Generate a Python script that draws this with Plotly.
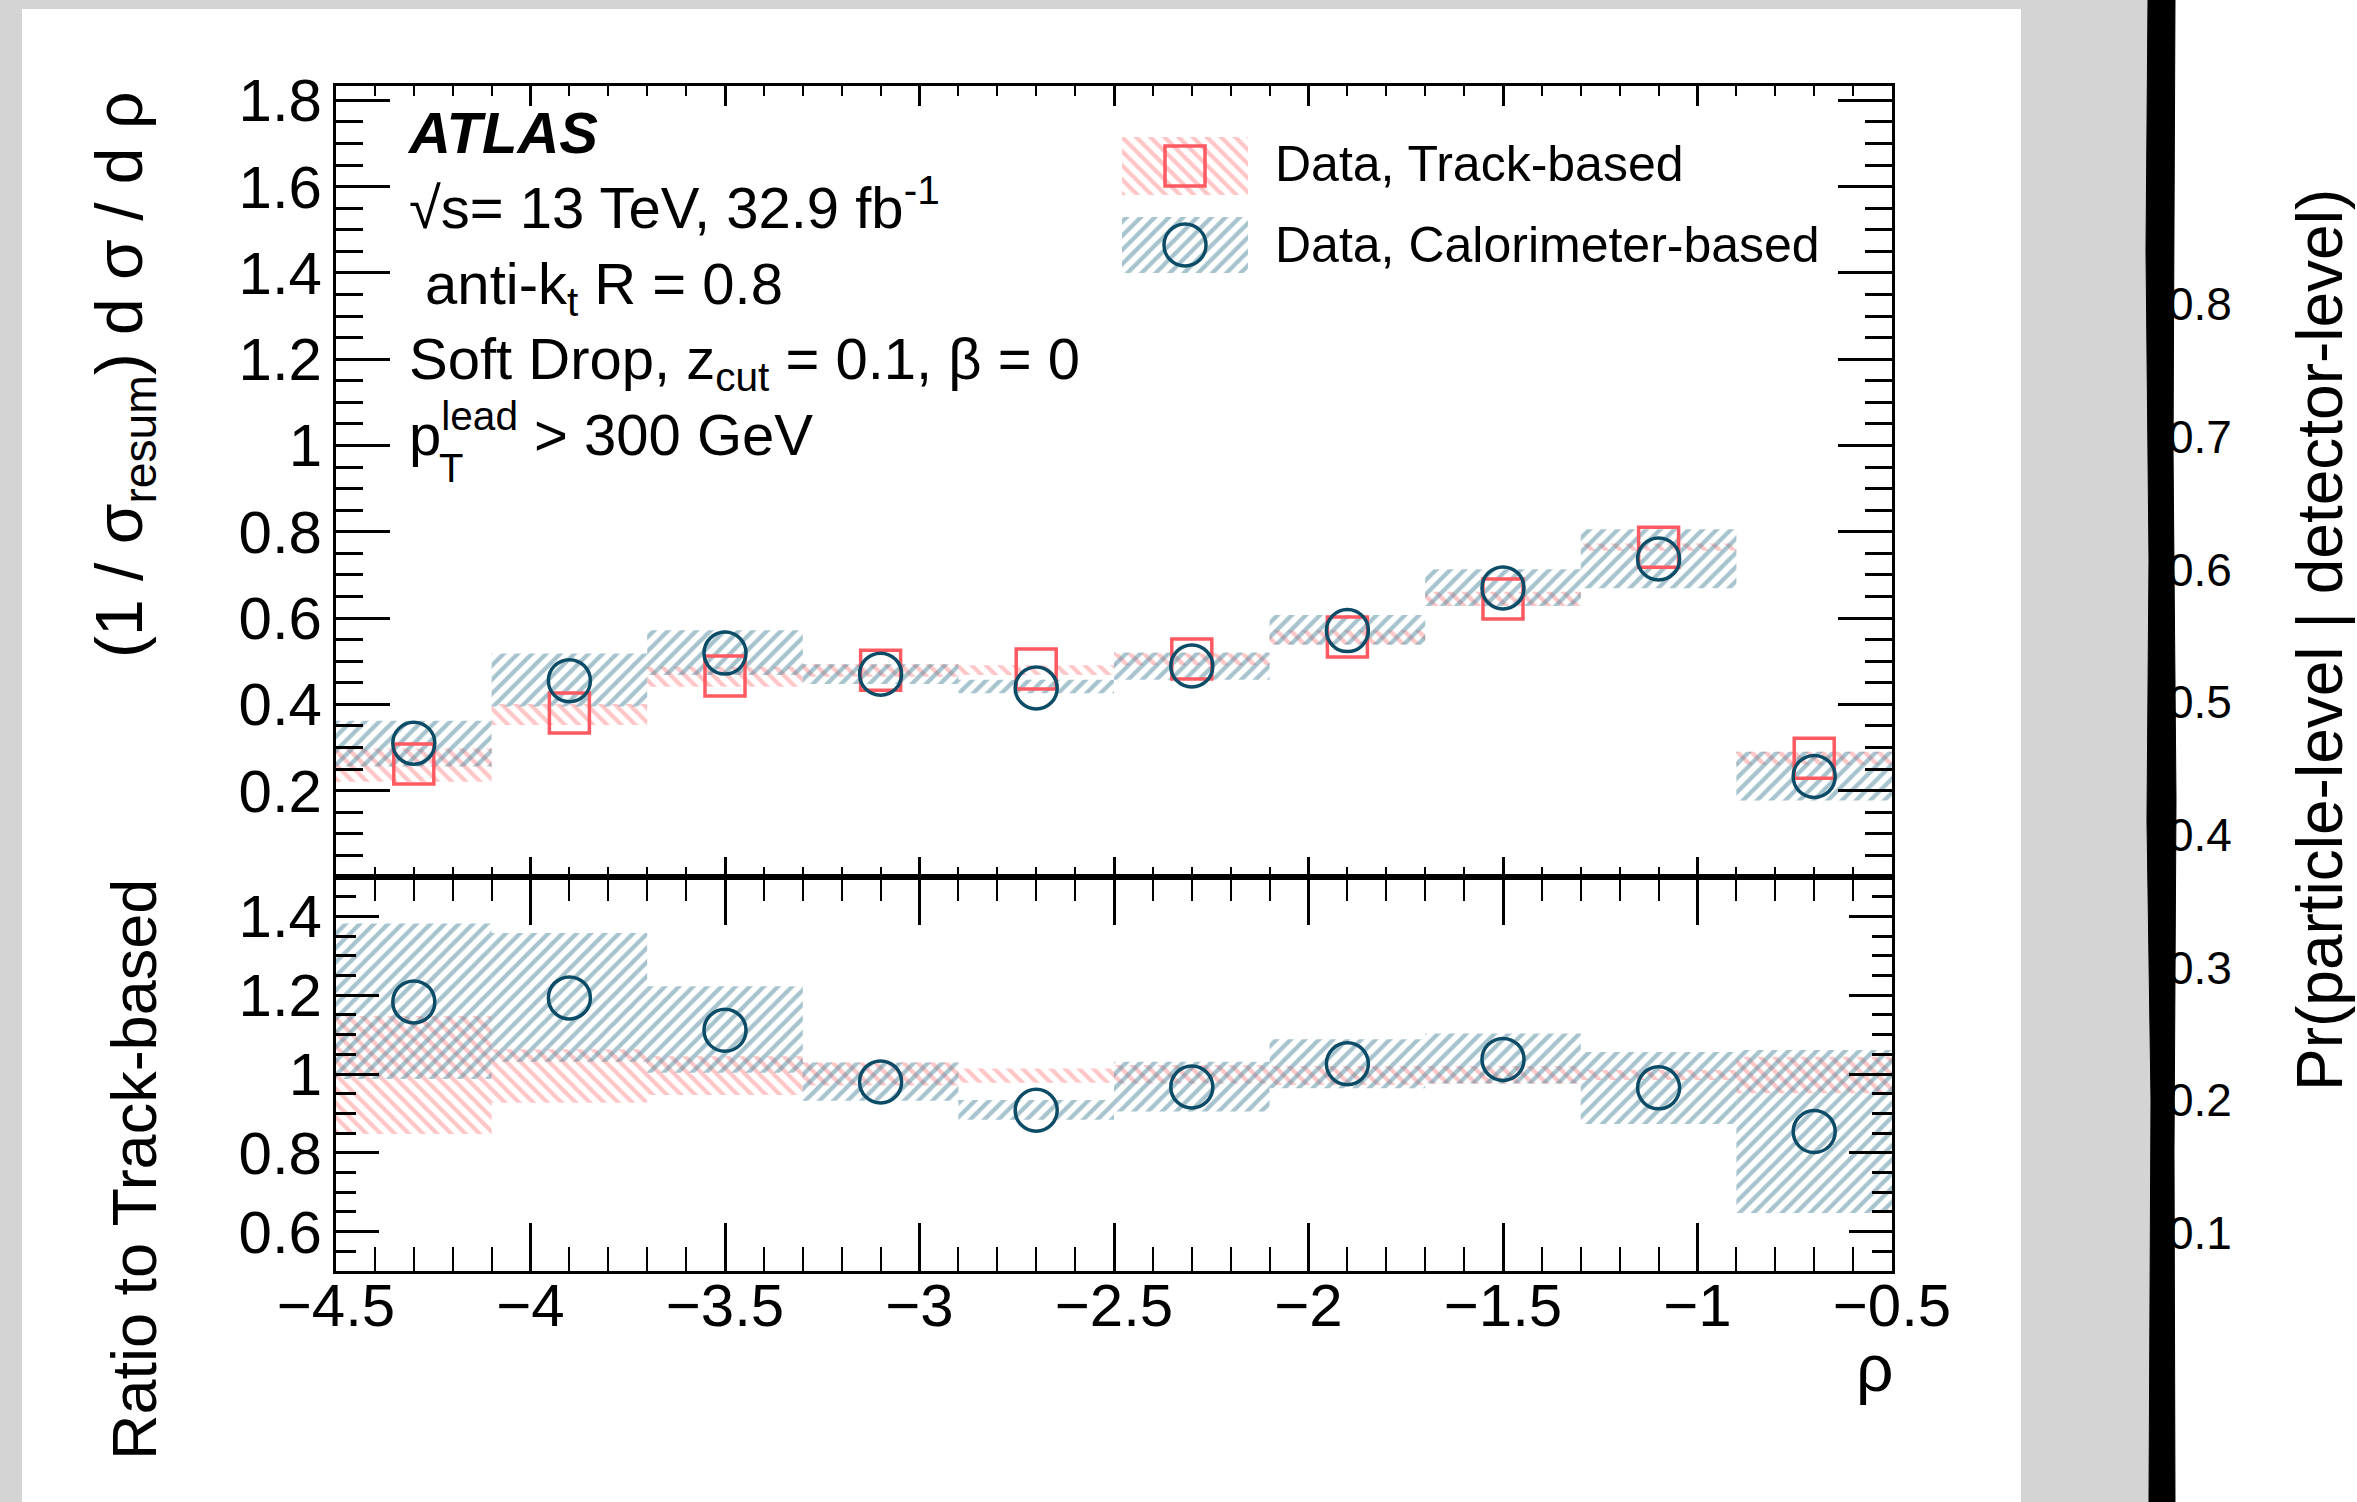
import plotly.graph_objects as go

# ---------------------------------------------------------------------------
# Data: Soft Drop rho = log(m^2/pT^2) distribution, track- vs calorimeter-based
# ---------------------------------------------------------------------------
rho_centres = [-4.3, -3.9, -3.5, -3.1, -2.7, -2.3, -1.9, -1.5, -1.1, -0.7]
bin_width = 0.4

track_vals = [0.262, 0.380, 0.466, 0.479, 0.482, 0.505, 0.556, 0.644, 0.764, 0.275]
track_lo = [0.221, 0.352, 0.441, 0.464, 0.468, 0.491, 0.540, 0.628, 0.756, 0.260]
track_hi = [0.298, 0.401, 0.487, 0.493, 0.491, 0.518, 0.572, 0.661, 0.773, 0.290]

calo_vals = [0.310, 0.455, 0.519, 0.470, 0.438, 0.489, 0.571, 0.670, 0.737, 0.233]
calo_lo = [0.256, 0.395, 0.468, 0.447, 0.426, 0.457, 0.538, 0.628, 0.669, 0.177]
calo_hi = [0.362, 0.518, 0.572, 0.493, 0.457, 0.520, 0.607, 0.713, 0.806, 0.290]

# ratio to track-based
ratio_calo = [1.183, 1.193, 1.111, 0.980, 0.908, 0.967, 1.026, 1.037, 0.965, 0.854]
ratio_calo_lo = [0.987, 1.031, 1.003, 0.932, 0.884, 0.905, 0.964, 0.976, 0.873, 0.647]
ratio_calo_hi = [1.382, 1.358, 1.223, 1.029, 0.934, 1.031, 1.088, 1.103, 1.056, 1.061]
ratio_track_lo = [0.848, 0.927, 0.947, 0.971, 0.978, 0.976, 0.972, 0.975, 0.985, 0.951]
ratio_track_hi = [1.147, 1.063, 1.045, 1.029, 1.014, 1.023, 1.020, 1.020, 1.010, 1.044]

# tick labels
x_tickvals = [-4.5, -4.0, -3.5, -3.0, -2.5, -2.0, -1.5, -1.0, -0.5]
x_ticktext = ["\u22124.5", "\u22124", "\u22123.5", "\u22123", "\u22122.5",
              "\u22122", "\u22121.5", "\u22121", "\u22120.5"]
main_tickvals = [0.2, 0.4, 0.6, 0.8, 1.0, 1.2, 1.4, 1.6, 1.8]
main_ticktext = ["0.2", "0.4", "0.6", "0.8", "1", "1.2", "1.4", "1.6", "1.8"]
ratio_tickvals = [0.6, 0.8, 1.0, 1.2, 1.4]
ratio_ticktext = ["0.6", "0.8", "1", "1.2", "1.4"]
prob_tickvals = [0.1, 0.2, 0.3, 0.4, 0.5, 0.6, 0.7, 0.8]
prob_ticktext = ["0.1", "0.2", "0.3", "0.4", "0.5", "0.6", "0.7", "0.8"]

# ---------------------------------------------------------------------------
# Page geometry (pixels) and styles
# ---------------------------------------------------------------------------
W, H = 2357, 1502


def px(x):
    return x / W


def py(y):
    return 1 - y / H


FONT = "Liberation Sans, Arial, Helvetica, sans-serif"
RED_LINE = "#ff5a62"
RED_HATCH = "#ff8e92"
BLUE_LINE = "#0d4c67"
BLUE_HATCH = "#4f879c"
GREY_BG = "#d4d4d4"

PLOT_L, PLOT_R = 336, 1892
TOP_T, SPLIT, BOT_B = 86, 877, 1271


def hatch(shape, colour):
    return dict(color="rgba(0,0,0,0)", line=dict(width=0),
                pattern=dict(shape=shape, fgcolor=colour, bgcolor="rgba(0,0,0,0)",
                             size=10, solidity=0.42, fillmode="overlay"))


def band(xs, lo, hi, colour, shape, xa, ya, width):
    return go.Bar(
        x=xs, base=lo, y=[h - l for h, l in zip(hi, lo)], width=width,
        xaxis=xa, yaxis=ya, showlegend=False, hoverinfo="skip",
        marker=hatch(shape, colour),
    )


def points(xs, ys, symbol, colour, xa, ya, size):
    # open symbols take their stroke colour from marker.color
    return go.Scatter(
        x=xs, y=ys, mode="markers", xaxis=xa, yaxis=ya, showlegend=False,
        hoverinfo="skip", cliponaxis=False,
        marker=dict(symbol=symbol, size=size, color=colour,
                    line=dict(color=colour, width=3.5)),
    )


widths = [bin_width] * len(rho_centres)
fig = go.Figure()

# upper panel: normalised distribution
fig.add_trace(band(rho_centres, track_lo, track_hi, RED_HATCH, "\\", "x", "y", widths))
fig.add_trace(band(rho_centres, calo_lo, calo_hi, BLUE_HATCH, "/", "x", "y", widths))
fig.add_trace(points(rho_centres, track_vals, "square-open", RED_LINE, "x", "y", 40))
fig.add_trace(points(rho_centres, calo_vals, "circle-open", BLUE_LINE, "x", "y", 42))

# lower panel: ratio to track-based
fig.add_trace(band(rho_centres, ratio_track_lo, ratio_track_hi, RED_HATCH, "\\", "x2", "y2", widths))
fig.add_trace(band(rho_centres, ratio_calo_lo, ratio_calo_hi, BLUE_HATCH, "/", "x2", "y2", widths))
fig.add_trace(points(rho_centres, ratio_calo, "circle-open", BLUE_LINE, "x2", "y2", 42))

# legend keys drawn in their own small unit box
fig.add_trace(go.Bar(x=[0.5], base=[0.574], y=[0.426], width=[1], xaxis="x3", yaxis="y3",
                     showlegend=False, hoverinfo="skip", marker=hatch("\\", RED_HATCH)))
fig.add_trace(go.Bar(x=[0.5], base=[0.0], y=[0.412], width=[1], xaxis="x3", yaxis="y3",
                     showlegend=False, hoverinfo="skip", marker=hatch("/", BLUE_HATCH)))
fig.add_trace(points([0.5], [0.787], "square-open", RED_LINE, "x3", "y3", 40))
fig.add_trace(points([0.5], [0.206], "circle-open", BLUE_LINE, "x3", "y3", 42))

# axis holder for the probability scale on the right
fig.add_trace(go.Scatter(x=[None], y=[None], xaxis="x4", yaxis="y4", mode="markers",
                         showlegend=False, hoverinfo="skip"))

tick_font = dict(family=FONT, size=60, color="black")
common = dict(showline=True, linecolor="black", linewidth=3, mirror="allticks",
              ticks="inside", tickcolor="black", showgrid=False, zeroline=False)

layout_axes = dict(
    xaxis=dict(domain=[px(PLOT_L), px(PLOT_R)], range=[-4.5, -0.5], anchor="y",
               tickvals=x_tickvals, showticklabels=False, ticklen=20, tickwidth=3,
               minor=dict(ticks="inside", dtick=0.1, tick0=-4.5, ticklen=10,
                          tickwidth=2, tickcolor="black", showgrid=False),
               **common),
    yaxis=dict(domain=[py(SPLIT), py(TOP_T)], range=[0, 1.8331], anchor="x",
               tickvals=main_tickvals, ticktext=main_ticktext, tickfont=tick_font,
               ticklen=54, tickwidth=3, ticklabelstandoff=-1,
               minor=dict(ticks="inside", dtick=0.05, tick0=0, ticklen=27,
                          tickwidth=3, tickcolor="black", showgrid=False),
               **common),
    xaxis2=dict(domain=[px(PLOT_L), px(PLOT_R)], range=[-4.5, -0.5], anchor="y2",
                matches="x", tickvals=x_tickvals, ticktext=x_ticktext, tickfont=tick_font,
                ticklen=48, tickwidth=3, ticklabelstandoff=-20,
                minor=dict(ticks="inside", dtick=0.1, tick0=-4.5, ticklen=24,
                           tickwidth=2, tickcolor="black", showgrid=False),
                **common),
    yaxis2=dict(domain=[py(BOT_B), py(SPLIT)], range=[0.5, 1.5], anchor="x2",
                tickvals=ratio_tickvals, ticktext=ratio_ticktext, tickfont=tick_font,
                ticklen=43, tickwidth=3, ticklabelstandoff=-1,
                minor=dict(ticks="inside", dtick=0.05, tick0=0.5, ticklen=20,
                           tickwidth=3, tickcolor="black", showgrid=False),
                **common),
    xaxis3=dict(domain=[px(1122), px(1248)], range=[0, 1], visible=False, anchor="y3"),
    yaxis3=dict(domain=[py(273), py(137)], range=[0, 1], visible=False, anchor="x3"),
    xaxis4=dict(domain=[px(2100), px(2165)], range=[0, 1], visible=False, anchor="y4"),
    yaxis4=dict(domain=[py(1365.7), py(38.6)], range=[0, 1], anchor="x4", side="right",
                showline=False, ticks="", showgrid=False, zeroline=False,
                tickvals=prob_tickvals, ticktext=prob_ticktext, ticklabelstandoff=2,
                tickfont=dict(family=FONT, size=46, color="black")),
)

shapes = [
    # white canvas of the ratio plot
    dict(type="rect", xref="paper", yref="paper", x0=px(22), x1=px(2021), y0=py(1502), y1=py(9),
         fillcolor="white", line=dict(width=0), layer="below"),
    # white canvas on the right
    dict(type="rect", xref="paper", yref="paper", x0=px(2174), x1=1, y0=0, y1=1,
         fillcolor="white", line=dict(width=0), layer="below"),
]

# thick bundle of black curves on the right-hand panel edge
edge_left = [(2148, 0), (2146, 250), (2149, 560), (2147, 820), (2151, 1100), (2149, 1502)]
edge_right = [(2175, 1502), (2174, 1150), (2176, 800), (2173, 450), (2175, 0)]
path = "M " + " L ".join(f"{px(x):.5f},{py(y):.5f}" for x, y in edge_left + edge_right) + " Z"
shapes.append(dict(type="path", xref="paper", yref="paper", path=path,
                   fillcolor="black", line=dict(color="black", width=1), layer="above"))

annotations = [
    dict(text="<b><i>ATLAS</i></b><br>√s= 13 TeV, 32.9 fb<sup>-1</sup><br>"
              " anti-k<sub>t</sub> R = 0.8<br>Soft Drop, z<sub>cut</sub> = 0.1, β = 0<br>"
              "p<sup>lead</sup> > 300 GeV",
         x=px(405), y=py(98), xanchor="left", yanchor="top", align="left",
         font=dict(family=FONT, size=58, color="black")),
    dict(text="T", x=px(437), y=py(468), xanchor="left", yanchor="middle",
         font=dict(family=FONT, size=40, color="black")),
    # legend entries
    dict(text="Data, Track-based", x=px(1273), y=py(164), xanchor="left", yanchor="middle",
         font=dict(family=FONT, size=50, color="black")),
    dict(text="Data, Calorimeter-based", x=px(1273), y=py(245), xanchor="left", yanchor="middle",
         font=dict(family=FONT, size=50, color="black")),
    # axis titles
    dict(text="(1 / σ<sub>resum</sub>) d σ / d ρ", textangle=-90, x=px(124), y=py(375),
         xanchor="center", yanchor="middle", font=dict(family=FONT, size=66, color="black")),
    dict(text="Ratio to Track-based", textangle=-90, x=px(134), y=py(1170),
         xanchor="center", yanchor="middle", font=dict(family=FONT, size=63, color="black")),
    dict(text="ρ", x=px(1896), y=py(1368), xanchor="right", yanchor="middle",
         font=dict(family=FONT, size=66, color="black")),
    dict(text="Pr(particle-level | detector-level)", textangle=-90, x=px(2320), y=py(640),
         xanchor="center", yanchor="middle", font=dict(family=FONT, size=64, color="black")),
]
for a in annotations:
    a.update(xref="paper", yref="paper", showarrow=False)

fig.update_layout(
    width=W, height=H, margin=dict(l=0, r=0, t=0, b=0, autoexpand=False),
    paper_bgcolor=GREY_BG, plot_bgcolor="rgba(0,0,0,0)",
    barmode="overlay", showlegend=False, hovermode=False,
    font=dict(family=FONT, color="black"),
    shapes=shapes, annotations=annotations,
    **layout_axes,
)

fig.write_html("out.html")
